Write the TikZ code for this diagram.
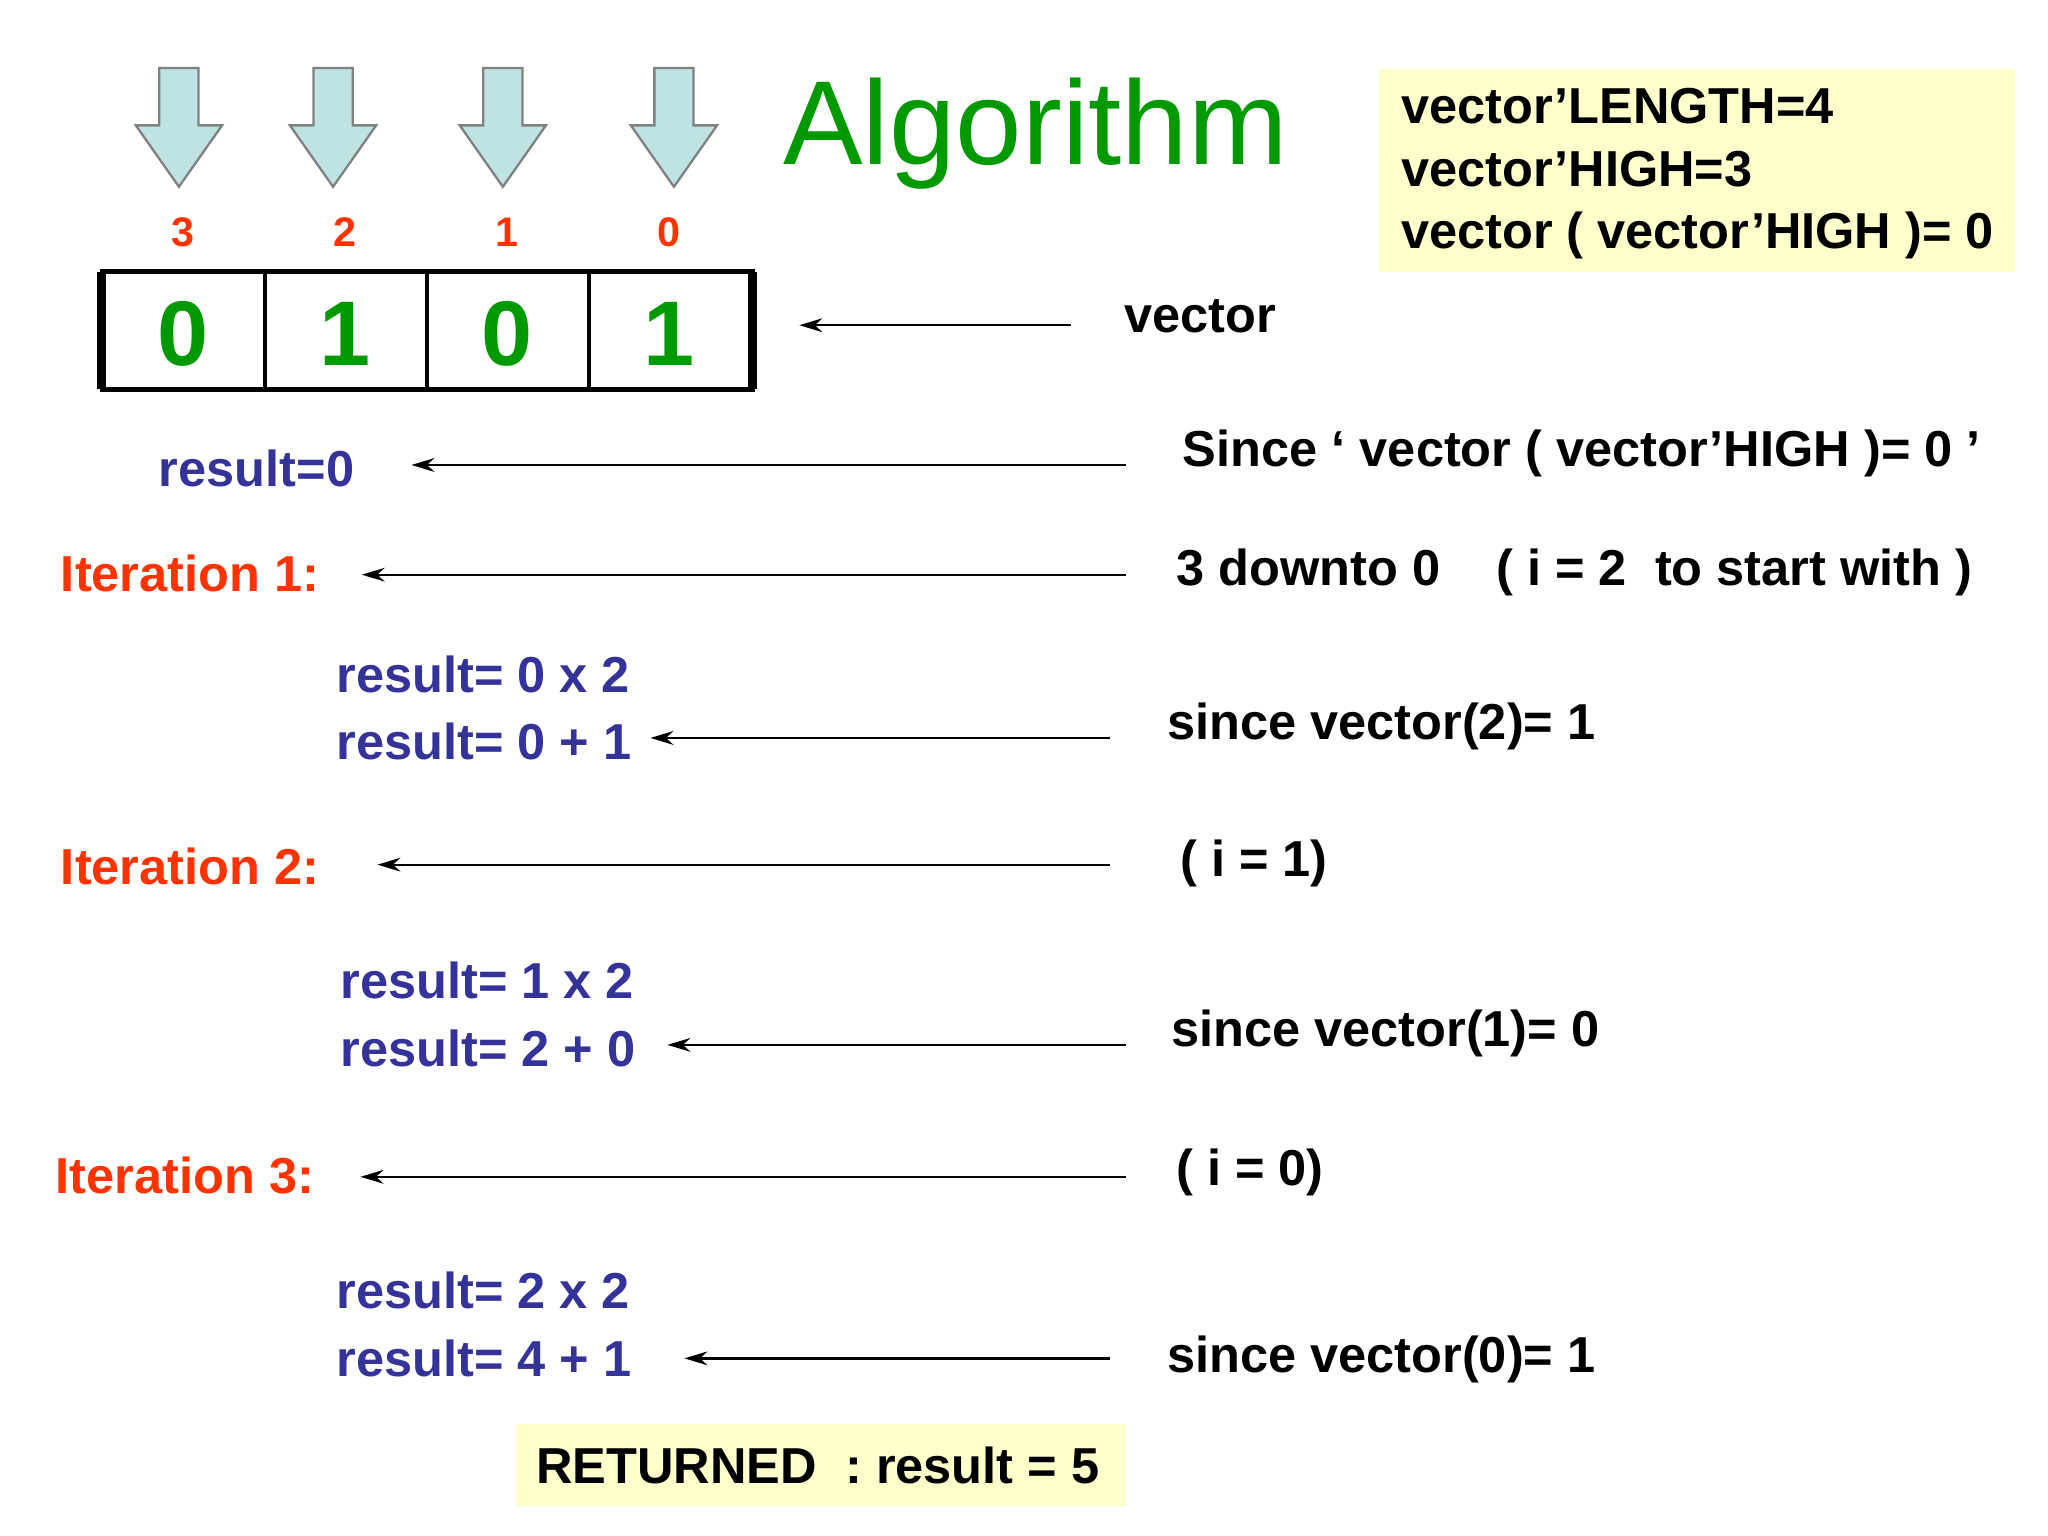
\documentclass[tikz,border=0pt]{standalone}
\usepackage{fontspec}
\setmainfont{Liberation Sans}
\usetikzlibrary{arrows.meta}
\definecolor{tblue}{HTML}{333399}
\definecolor{tred}{HTML}{FF3300}
\definecolor{tgreen}{HTML}{009900}
\definecolor{tyel}{HTML}{FFFFCC}
\definecolor{tcyan}{HTML}{BFE3E3}
\newcommand{\sq}{{\char"27}}
\begin{document}
\begin{tikzpicture}[x={(0.01cm,0)},y={(0,-0.01cm)},
  txt/.style={anchor=west,inner sep=0,font=\fontsize{11}{13}\selectfont\bfseries},
  bl/.style={txt,text=tblue},
  rd/.style={txt,text=tred},
  idx/.style={inner sep=0,text=tred,font=\fontsize{9}{11}\selectfont\bfseries},
  dig/.style={inner sep=0,text=tgreen,font=\fontsize{20}{24}\selectfont\bfseries},
  ptr/.style={-{Stealth[length=5pt,width=3pt]},line width=0.5pt},
  down/.style={fill=tcyan,draw=gray,line width=0.5pt}]
\useasboundingbox (0,0) rectangle (1568,1176);
% down arrows
\foreach \x in {137,255,385,516}{
  \draw[down] (\x-15,52) -- (\x+15,52) -- (\x+15,96) -- (\x+33,96) -- (\x,143) -- (\x-33,96) -- (\x-15,96) -- cycle;}
\node[idx] (i3) at (140,178) {3};
\node[idx] (i2) at (264,178) {2};
\node[idx] (i1) at (388,178) {1};
\node[idx] (i0) at (512,178) {0};
\node[inner sep=0,text=tgreen,anchor=west,font=\fontsize{26}{30}\selectfont] (alg) at (599,102) {Algorithm};
% vector boxes
\draw[line width=1pt] (78,208) rectangle (576,298);
\draw[line width=2pt] (78,208) -- (78,298) (576,208) -- (576,298);
\foreach \x in {203,327,451}{\draw[line width=1pt] (\x,208) -- (\x,298);}
\node[dig] (d3) at (140,256) {0};
\node[dig] (d2) at (264,256) {1};
\node[dig] (d1) at (388,256) {0};
\node[dig] (d0) at (512,256) {1};
% yellow box
\fill[tyel] (1056,53) rectangle (1543,208);
\node[txt,align=left,font=\fontsize{11}{13.6}\selectfont\bfseries] (attr) at (1072,133) {vector’LENGTH=4\\vector’HIGH=3\\vector ( vector\sq HIGH )= 0};
% rows
\coordinate (a0s) at (820,249); \coordinate (a0e) at (612,249);
\draw[ptr] (a0s) -- (a0e);
\node[txt] (vec) at (860,242) {vector};

\node[bl] (r0) at (121,359) {result=0};
\coordinate (a1s) at (862,356); \coordinate (a1e) at (315,356);
\draw[ptr] (a1s) -- (a1e);
\node[txt] (since0) at (905,347) {Since ‘ vector ( vector\sq HIGH )= 0 ’};

\node[rd] (it1) at (46,439) {Iteration 1:};
\coordinate (a2s) at (862,440); \coordinate (a2e) at (277,440);
\draw[ptr] (a2s) -- (a2e);
\node[txt] (dt) at (900,438) {3 downto 0\ \ \ \ ( i = 2\ \ to start with )};

\node[bl] (r1a) at (257,516) {result= 0 x 2};
\node[bl] (r1b) at (257,568) {result= 0 + 1};
\coordinate (a3s) at (850,565); \coordinate (a3e) at (498,565);
\draw[ptr] (a3s) -- (a3e);
\node[txt] (s2) at (893,556) {since vector(2)= 1};

\node[rd] (it2) at (46,663) {Iteration 2:};
\coordinate (a4s) at (850,662); \coordinate (a4e) at (289,662);
\draw[ptr] (a4s) -- (a4e);
\node[txt] (i1t) at (903,661) {( i = 1)};

\node[bl] (r2a) at (260,751) {result= 1 x 2};
\node[bl] (r2b) at (260,803) {result= 2 + 0};
\coordinate (a5s) at (862,800); \coordinate (a5e) at (511,800);
\draw[ptr] (a5s) -- (a5e);
\node[txt] (s1) at (896,791) {since vector(1)= 0};

\node[rd] (it3) at (42,900) {Iteration 3:};
\coordinate (a6s) at (862,901); \coordinate (a6e) at (276,901);
\draw[ptr] (a6s) -- (a6e);
\node[txt] (i0t) at (900,898) {( i = 0)};

\node[bl] (r3a) at (257,988) {result= 2 x 2};
\node[bl] (r3b) at (257,1040) {result= 4 + 1};
\coordinate (a7s) at (850,1040); \coordinate (a7e) at (524,1040);
\draw[ptr] (a7s) -- (a7e);
\node[txt] (s0) at (893,1041) {since vector(0)= 1};

\fill[tyel] (395,1090) rectangle (862,1153);
\node[txt] (ret) at (410,1122) {RETURNED\ \ : result = 5};
\end{tikzpicture}
\end{document}
